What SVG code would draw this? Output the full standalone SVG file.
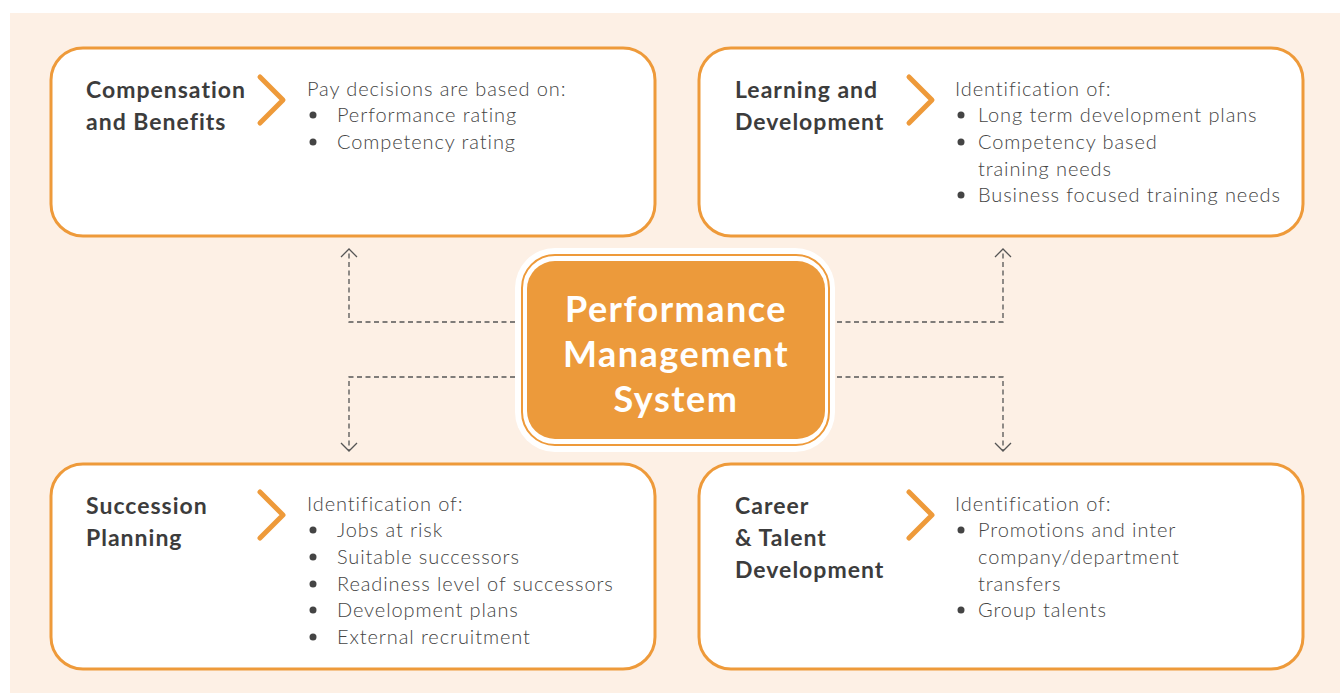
<svg xmlns="http://www.w3.org/2000/svg" width="1340" height="693" viewBox="0 0 1340 693">
<defs>
<style>
.box{fill:#fff;stroke:#EE9A3A;stroke-width:3}
.chev{fill:none;stroke:#EE9A3A;stroke-width:5;stroke-linecap:round;stroke-linejoin:round}
.title{font-family:Lato,"Noto Sans",sans-serif;font-weight:700;font-size:23px;letter-spacing:1px;fill:#3c3c3c}
.desc{font-family:Lato,"Noto Sans",sans-serif;font-weight:300;font-size:20px;letter-spacing:0.9px;fill:#444}
.dot{fill:#444}
.dash{fill:none;stroke:#555;stroke-width:1.3;stroke-dasharray:5 3.5}
.head{fill:none;stroke:#555;stroke-width:1.3}
.center{font-family:Lato,"Noto Sans",sans-serif;font-weight:700;font-size:36px;letter-spacing:1.5px;fill:#fff;text-anchor:middle}
</style>
</defs>
<rect x="10" y="13" width="1330" height="680" fill="#FDF0E5"/>
<g id="connectors">
<path class="dash" d="M515 322 H349 V250"/>
<path class="head" d="M341 257 L349 249 L357 257"/>
<path class="dash" d="M515 377 H349 V450"/>
<path class="head" d="M341 443 L349 451 L357 443"/>
<path class="dash" d="M837 322 H1003 V250"/>
<path class="head" d="M995 257 L1003 249 L1011 257"/>
<path class="dash" d="M837 377 H1003 V450"/>
<path class="head" d="M995 443 L1003 451 L1011 443"/>
</g>
<g id="center">
<rect x="515" y="248" width="320" height="204" rx="40" fill="#fff"/>
<rect x="522" y="255" width="307" height="190" rx="33" fill="none" stroke="#EE9A3A" stroke-width="2"/>
<rect x="527" y="261" width="298" height="178" rx="28" fill="#EC9A3B"/>
<text class="center" x="676" y="322">Performance</text>
<text class="center" x="676" y="367">Management</text>
<text class="center" x="676" y="412">System</text>
</g>
<g id="compensation">
<rect class="box" x="51" y="48" width="604" height="188" rx="32"/>
<text class="title" x="86" y="98">Compensation</text>
<text class="title" x="86" y="130">and Benefits</text>
<path class="chev" d="M260 77 L283 100 L260 123"/>
<text class="desc" x="307" y="96">Pay decisions are based on:</text>
<circle class="dot" cx="313" cy="115" r="3.5"/>
<text class="desc" x="337" y="122">Performance rating</text>
<circle class="dot" cx="313" cy="142" r="3.5"/>
<text class="desc" x="337" y="149">Competency rating</text>
</g>
<g id="learning">
<rect class="box" x="699" y="48" width="604" height="188" rx="32"/>
<text class="title" x="735" y="98">Learning and</text>
<text class="title" x="735" y="130">Development</text>
<path class="chev" d="M909 77 L932 100 L909 123"/>
<text class="desc" x="955" y="96">Identification of:</text>
<circle class="dot" cx="961" cy="115" r="3.5"/>
<text class="desc" x="978" y="122">Long term development plans</text>
<circle class="dot" cx="961" cy="142" r="3.5"/>
<text class="desc" x="978" y="149">Competency based</text>
<text class="desc" x="978" y="176">training needs</text>
<circle class="dot" cx="961" cy="195" r="3.5"/>
<text class="desc" x="978" y="202">Business focused training needs</text>
</g>
<g id="succession">
<rect class="box" x="51" y="464" width="604" height="205" rx="32"/>
<text class="title" x="86" y="514">Succession</text>
<text class="title" x="86" y="546">Planning</text>
<path class="chev" d="M260 492 L283 515 L260 538"/>
<text class="desc" x="307" y="511">Identification of:</text>
<circle class="dot" cx="313" cy="530" r="3.5"/>
<text class="desc" x="337" y="537">Jobs at risk</text>
<circle class="dot" cx="313" cy="557" r="3.5"/>
<text class="desc" x="337" y="564">Suitable successors</text>
<circle class="dot" cx="313" cy="584" r="3.5"/>
<text class="desc" x="337" y="591">Readiness level of successors</text>
<circle class="dot" cx="313" cy="610" r="3.5"/>
<text class="desc" x="337" y="617">Development plans</text>
<circle class="dot" cx="313" cy="637" r="3.5"/>
<text class="desc" x="337" y="644">External recruitment</text>
</g>
<g id="career">
<rect class="box" x="699" y="464" width="604" height="205" rx="32"/>
<text class="title" x="735" y="514">Career</text>
<text class="title" x="735" y="546">&amp; Talent</text>
<text class="title" x="735" y="578">Development</text>
<path class="chev" d="M909 492 L932 515 L909 538"/>
<text class="desc" x="955" y="511">Identification of:</text>
<circle class="dot" cx="961" cy="530" r="3.5"/>
<text class="desc" x="978" y="537">Promotions and inter</text>
<text class="desc" x="978" y="564">company/department</text>
<text class="desc" x="978" y="591">transfers</text>
<circle class="dot" cx="961" cy="610" r="3.5"/>
<text class="desc" x="978" y="617">Group talents</text>
</g>
</svg>
